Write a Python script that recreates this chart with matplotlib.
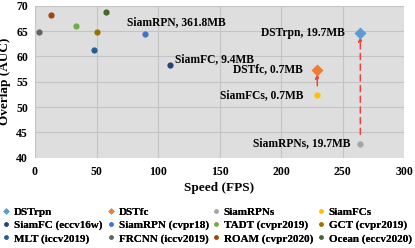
import matplotlib
matplotlib.use("Agg")
import matplotlib.pyplot as plt
from matplotlib.lines import Line2D

# ---- data ----
names = ["DSTrpn", "DSTfc", "SiamRPNs", "SiamFCs",
         "SiamFC (eccv16w)", "SiamRPN (cvpr18)", "TADT (cvpr2019)", "GCT (cvpr2019)",
         "MLT (iccv2019)", "FRCNN (iccv2019)", "ROAM (cvpr2020)", "Ocean (eccv2020)"]
speed = [264.5, 229.5, 264.5, 229.5, 110, 89.5, 33.5, 50, 48, 3, 13, 58]
overlap = [64.7, 57.4, 42.8, 52.4, 58.3, 64.4, 66.0, 64.9, 61.2, 64.8, 68.2, 68.7]
colors = ["#5B9BD5", "#ED7D31", "#A5A5A5", "#FFC000",
          "#264478", "#4472C4", "#70AD47", "#997300",
          "#255E91", "#636363", "#9E480E", "#43682B"]
markers = ["D", "D", "o", "o", "o", "o", "o", "o", "o", "o", "o", "o"]

labels = {0: "DSTrpn, 19.7MB", 1: "DSTfc, 0.7MB", 2: "SiamRPNs, 19.7MB",
          3: "SiamFCs, 0.7MB", 4: "SiamFC, 9.4MB", 5: "SiamRPN, 361.8MB"}
# arrows: (from index, to index)
arrows = [(2, 0), (3, 1)]

xticks = [0, 50, 100, 150, 200, 250, 300]
yticks = [40, 45, 50, 55, 60, 65, 70]

# ---- figure ----
font = ["Liberation Serif", "DejaVu Serif"]
fig = plt.figure(figsize=(4.15, 2.48), dpi=100)
fig.patch.set_facecolor("white")
ax = fig.add_axes([35 / 415, 1 - 157.7 / 248, (404 - 35) / 415, (157.7 - 5.7) / 248])
ax.set_facecolor("#dfdedf")
ax.set_xlim(0, 300)
ax.set_ylim(40, 70)
ax.set_xticks(xticks)
ax.set_yticks(yticks)
ax.grid(True, color="#c4c4c4", linewidth=0.8)
ax.set_axisbelow(True)
for s in ax.spines.values():
    s.set_visible(False)
ax.tick_params(length=0, pad=6)
for lab in ax.get_xticklabels() + ax.get_yticklabels():
    lab.set_fontfamily(font)
    lab.set_fontweight("bold")
    lab.set_fontsize(8.5)
ax.tick_params(axis="y", pad=5)

ax.set_xlabel("Speed (FPS)", fontfamily=font, fontweight="bold", fontsize=9.5, labelpad=3)
ax.set_ylabel("Overlap (AUC)", fontfamily=font, fontweight="bold", fontsize=9.5, labelpad=4)

# arrows
for a, b in arrows:
    ax.annotate("", xy=(speed[b], overlap[b] - 0.9), xytext=(speed[a], overlap[a] + 1.8),
                arrowprops=dict(arrowstyle="-|>", color="#f04040", lw=1.1, ls=(0, (4, 3)),
                                mutation_scale=6, shrinkA=0, shrinkB=0), zorder=2)

handles = []
for i in range(len(names)):
    ms = 6 if markers[i] == "D" else 4.5
    ax.plot(speed[i], overlap[i], marker=markers[i], color=colors[i], ms=ms,
            mec="none", ls="none", zorder=3)
    handles.append(Line2D([], [], marker=markers[i], color=colors[i], ms=3.2,
                          mec="none", ls="none", label=names[i]))

# point labels (pixel offsets)
offs = {0: (-15, 0, "right"), 1: (-14, 0, "right"), 2: (-10, 0, "right"),
        3: (-14, 0, "right"), 4: (5, 6, "left"), 5: (-18, 12, "left")}
for i, txt in labels.items():
    dx, dy, ha = offs[i]
    ax.annotate(txt, (speed[i], overlap[i]), xytext=(dx, dy), textcoords="offset pixels",
                ha=ha, va="center", fontfamily=font, fontweight="bold", fontsize=8.3,
                zorder=4)

# legend: 4 columns of 3 rows, row-major order
col_x = [3, 108, 213, 318]
for c in range(4):
    hs = [handles[c + 4 * r] for r in range(3)]
    leg = fig.legend(handles=hs, loc="upper left",
                     bbox_to_anchor=(col_x[c] / 415, 1 - 207 / 248),
                     frameon=False, handlelength=0.6, handletextpad=0.35,
                     labelspacing=0.3, borderpad=0, borderaxespad=0,
                     prop=dict(family=font, weight="bold", size=8))
    fig.add_artist(leg)

fig.savefig("out.png", dpi=100)
